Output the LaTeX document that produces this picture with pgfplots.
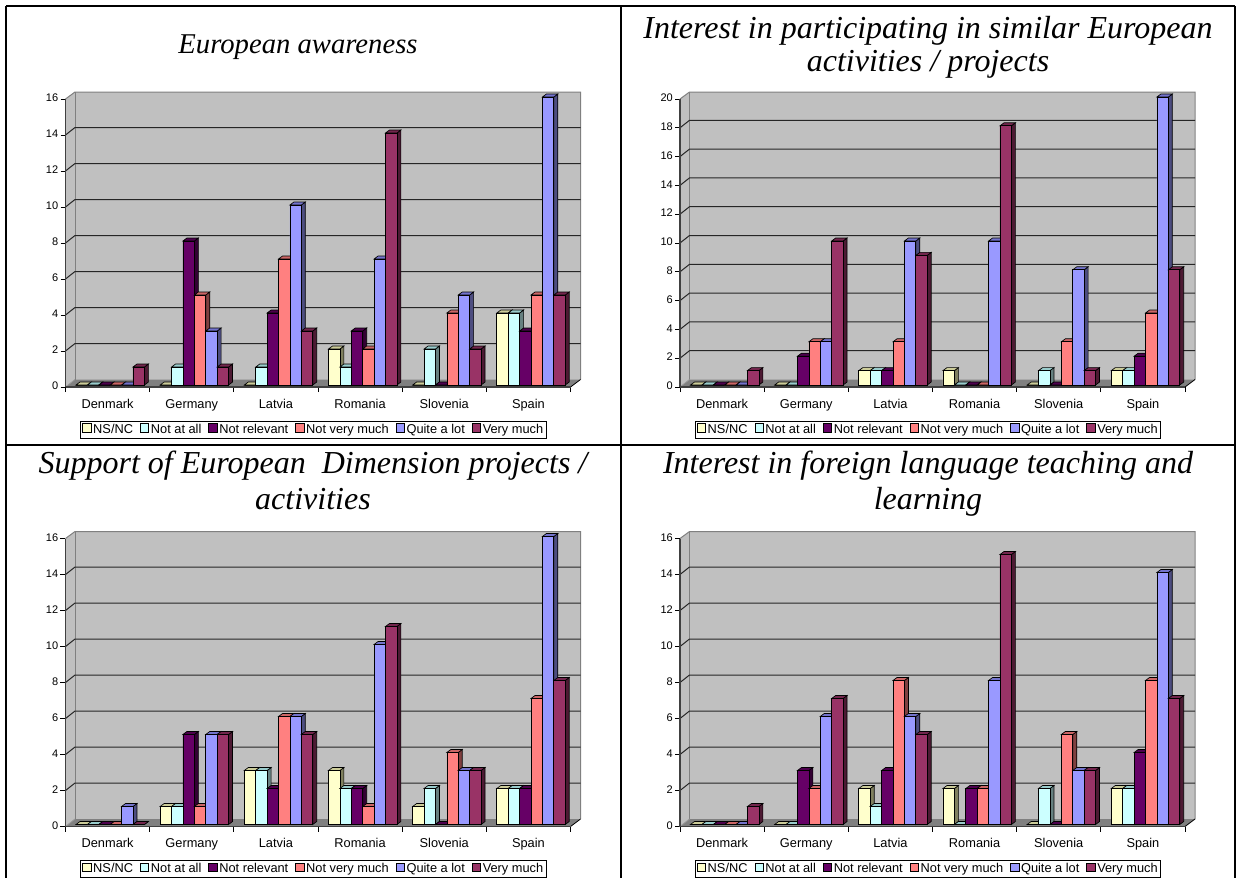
\documentclass[border=0pt]{standalone}
\usepackage{pgfplots}
\usepackage{pgfplotstable}
\usepackage{fontspec}
\setmainfont{Liberation Sans}
\newfontfamily\titlefont{Liberation Serif}
\pgfplotsset{compat=1.18}

\definecolor{cA}{HTML}{FFFFCC}\definecolor{sA}{HTML}{80805F}\definecolor{tA}{HTML}{CCCC99}
\definecolor{cB}{HTML}{CCFFFF}\definecolor{sB}{HTML}{668080}\definecolor{tB}{HTML}{99CCCC}
\definecolor{cC}{HTML}{660066}\definecolor{sC}{HTML}{330033}\definecolor{tC}{HTML}{4D004D}
\definecolor{cD}{HTML}{FF8080}\definecolor{sD}{HTML}{804040}\definecolor{tD}{HTML}{CC6666}
\definecolor{cE}{HTML}{9999FF}\definecolor{sE}{HTML}{4D4D80}\definecolor{tE}{HTML}{7373CC}
\definecolor{cF}{HTML}{993366}\definecolor{sF}{HTML}{4D1A33}\definecolor{tF}{HTML}{73264D}
\definecolor{wall}{HTML}{C0C0C0}\definecolor{floorc}{HTML}{808080}

% columns: category position, then the six answers
\pgfplotstableread{
pos NS NA NR NV QL VM
0.5 0 0 0 0 0 1
1.5 0 1 8 5 3 1
2.5 0 1 4 7 10 3
3.5 2 1 3 2 7 14
4.5 0 2 0 4 5 2
5.5 4 4 3 5 16 5
}\tblA
\pgfplotstableread{
pos NS NA NR NV QL VM
0.5 0 0 0 0 0 1
1.5 0 0 2 3 3 10
2.5 1 1 1 3 10 9
3.5 1 0 0 0 10 18
4.5 0 1 0 3 8 1
5.5 1 1 2 5 20 8
}\tblB
\pgfplotstableread{
pos NS NA NR NV QL VM
0.5 0 0 0 0 1 0
1.5 1 1 5 1 5 5
2.5 3 3 2 6 6 5
3.5 3 2 2 1 10 11
4.5 1 2 0 4 3 3
5.5 2 2 2 7 16 8
}\tblC
\pgfplotstableread{
pos NS NA NR NV QL VM
0.5 0 0 0 0 0 1
1.5 0 0 3 2 6 7
2.5 2 1 3 8 6 5
3.5 2 0 2 2 8 15
4.5 0 2 0 5 3 3
5.5 2 2 4 8 14 7
}\tblD

% side, top and front faces of a bar, hanging from the point (x,y)
\newdimen\mybarh
\pgfdeclareplotmark{depththree}{%
  \mybarh=\barval pt\relax
  \mybarh=\unitpt\mybarh\relax
  \pgfsetlinewidth{0.5pt}\pgfsetstrokecolor{black}%
  \pgfsetfillcolor{\sidecol}%
  \pgfpathmoveto{\pgfqpoint{4.275pt}{0pt}}%
  \pgfpathlineto{\pgfqpoint{7.275pt}{2.25pt}}%
  \pgfpathlineto{\pgfqpoint{7.275pt}{\dimexpr2.25pt-\mybarh\relax}}%
  \pgfpathlineto{\pgfqpoint{4.275pt}{\dimexpr-\mybarh\relax}}%
  \pgfpathclose\pgfusepath{fill,stroke}%
  \pgfsetfillcolor{\topcol}%
  \pgfpathmoveto{\pgfqpoint{-4.275pt}{0pt}}%
  \pgfpathlineto{\pgfqpoint{4.275pt}{0pt}}%
  \pgfpathlineto{\pgfqpoint{7.275pt}{2.25pt}}%
  \pgfpathlineto{\pgfqpoint{-1.275pt}{2.25pt}}%
  \pgfpathclose\pgfusepath{fill,stroke}%
  \pgfsetfillcolor{\frontcol}%
  \pgfpathmoveto{\pgfqpoint{-4.275pt}{0pt}}%
  \pgfpathlineto{\pgfqpoint{4.275pt}{0pt}}%
  \pgfpathlineto{\pgfqpoint{4.275pt}{\dimexpr-\mybarh\relax}}%
  \pgfpathlineto{\pgfqpoint{-4.275pt}{\dimexpr-\mybarh\relax}}%
  \pgfpathclose\pgfusepath{fill,stroke}%
}
\pgfplotsset{
  swatch/.style={legend image code/.code={\draw[##1,line width=0.5pt] (0pt,-3.1pt) rectangle (6.3pt,3.1pt);}},
}

% #1 table #2 column #3 letter #4 shift
\newcommand\oneseries[4]{%
  \addplot[ybar,bar width=8.55pt,bar shift=0pt,xshift=#4pt,yshift=1.5pt,
    draw=black,line width=0.5pt,fill=c#3,swatch]
    table[x=pos,y=#2] {#1};
  \addplot[scatter,only marks,forget plot,mark=depththree,
    /utils/exec={\def\sidecol{s#3}\def\topcol{t#3}\def\frontcol{c#3}},
    scatter/use mapped color={draw=black,fill=black},
    visualization depends on={rawy \as \barval},
    xshift=#4pt,yshift=1.5pt]
    table[x=pos,y=#2] {#1};
}

% #1 x0 #2 y0 #3 ymax #4 intervals #5 table #6 title #7 title x #8 title top #9 title size
\newcommand\panel[9]{%
  \fill[wall] ({(#1+9.5)*0.75pt},{-(#2-295)*0.75pt}) rectangle ({(#1+515)*0.75pt},{-(#2-7.5)*0.75pt});
  \fill[wall] ({#1*0.75pt},{-(#2-288)*0.75pt}) -- ({(#1+9.5)*0.75pt},{-(#2-295)*0.75pt}) -- ({(#1+9.5)*0.75pt},{-(#2-7.5)*0.75pt}) -- ({#1*0.75pt},{-#2*0.75pt}) -- cycle;
  \fill[floorc] ({#1*0.75pt},{-#2*0.75pt}) -- ({(#1+505)*0.75pt},{-#2*0.75pt}) -- ({(#1+515)*0.75pt},{-(#2-7.5)*0.75pt}) -- ({(#1+9.5)*0.75pt},{-(#2-7.5)*0.75pt}) -- cycle;
  \draw[floorc,line width=0.75pt] ({#1*0.75pt},{-(#2-288)*0.75pt}) -- ({(#1+9.5)*0.75pt},{-(#2-295)*0.75pt}) -- ({(#1+515)*0.75pt},{-(#2-295)*0.75pt}) -- ({(#1+515)*0.75pt},{-(#2-7.5)*0.75pt});
  \draw[floorc,line width=0.75pt] ({(#1+9.5)*0.75pt},{-(#2-295)*0.75pt}) -- ({(#1+9.5)*0.75pt},{-(#2-7.5)*0.75pt});
  \draw[black,line width=0.6pt] ({(#1+505)*0.75pt},{-#2*0.75pt}) -- ({(#1+515)*0.75pt},{-(#2-7.5)*0.75pt});
  \draw[black!40,line width=0.6pt] ({#1*0.75pt},{-#2*0.75pt}) -- ({(#1+9.5)*0.75pt},{-(#2-7.5)*0.75pt});
  \pgfmathtruncatemacro\lastgrid{#4-1}
  \foreach \i in {1,...,\lastgrid}{
    \draw[black!85,line width=0.75pt] ({#1*0.75pt},{-(#2-\i*288/#4)*0.75pt}) -- ({(#1+9.5)*0.75pt},{-(#2-\i*288/#4-7.5)*0.75pt}) -- ({(#1+515)*0.75pt},{-(#2-\i*288/#4-7.5)*0.75pt});
  }
  \pgfmathsetmacro\unitpt{216/#3}
  \pgfmathsetmacro\tu{(#7-#1)/505}
  \pgfmathsetmacro\tv{(#2-#8)/288}
  \begin{axis}[
    at={({#1*0.75pt},{-#2*0.75pt})},anchor=south west,
    scale only axis,width=378.75pt,height=216pt,
    xmin=0,xmax=6,ymin=0,ymax=#3,clip=false,
    axis x line*=bottom,axis y line*=left,
    axis line style={-,draw=black!75,line width=1pt},
    ytick distance=2,
    xtick={0.5,1.5,2.5,3.5,4.5,5.5},
    xticklabels={Denmark,Germany,Latvia,Romania,Slovenia,Spain},
    typeset ticklabels with strut,
    minor xtick={0,1,2,3,4,5,6},
    major x tick style={draw=none},
    minor x tick style={black,line width=0.6pt},
    ytick style={black,line width=0.6pt},
    tick align=outside,
    major tick length=3.75pt,minor tick length=3.75pt,
    /pgf/number format/assume math mode=true,
    yticklabel style={font=\fontsize{8.25}{10}\selectfont,inner sep=1pt,xshift=-0.5pt},
    xticklabel style={font=\fontsize{9.6}{11}\selectfont,yshift=-1pt},
    title={#6},
    title style={font=\titlefont\itshape\fontsize{#9}{27}\selectfont,align=center,
      anchor=north,at={(axis description cs:\tu,\tv)}},
    legend columns=-1,
    legend cell align=left,
    legend style={at={(axis description cs:0.4915,-0.1485)},anchor=center,
      draw=black,line width=0.75pt,font=\fontsize{9.6}{11}\selectfont,
      inner xsep=1pt,inner ysep=0.5pt,
      /tikz/every even column/.append style={column sep=3.8pt},
      nodes={inner xsep=1.4pt,inner ysep=1.6pt}},
  ]
    \oneseries{#5}{NS}{A}{-19.425}
    \oneseries{#5}{NA}{B}{-10.875}
    \oneseries{#5}{NR}{C}{-2.325}
    \oneseries{#5}{NV}{D}{6.225}
    \oneseries{#5}{QL}{E}{14.775}
    \oneseries{#5}{VM}{F}{23.325}
    \legend{NS/NC,Not at all,Not relevant,Not very much,Quite a lot,Very much}
  \end{axis}
}

\begin{document}
\begin{tikzpicture}
  \useasboundingbox (0,0) rectangle (928.5pt,-658.5pt);
  \panel{65.5}{387}{16}{8}{\tblA}{European awareness}{298}{38}{21.5}
  \panel{680}{387}{20}{10}{\tblB}{Interest in participating in similar European\\[-2.3pt]activities / projects}{928}{20}{24}
  \panel{65.5}{826.5}{16}{8}{\tblC}{Support of European\ \ Dimension projects /\\activities}{313}{454}{24}
  \panel{680}{826.5}{16}{8}{\tblD}{Interest in foreign language teaching and\\learning}{928}{454}{24}
  \draw[black,line width=1.5pt] (4.5pt,-4.5pt) -- (4.5pt,-658.5pt);
  \draw[black,line width=1.5pt] (465.75pt,-4.5pt) -- (465.75pt,-658.5pt);
  \draw[black,line width=1.5pt] (926pt,-4.5pt) -- (926pt,-658.5pt);
  \draw[black,line width=1.5pt] (4.5pt,-4.5pt) -- (926pt,-4.5pt);
  \draw[black,line width=1.5pt] (4.5pt,-333.75pt) -- (926pt,-333.75pt);
\end{tikzpicture}
\end{document}
